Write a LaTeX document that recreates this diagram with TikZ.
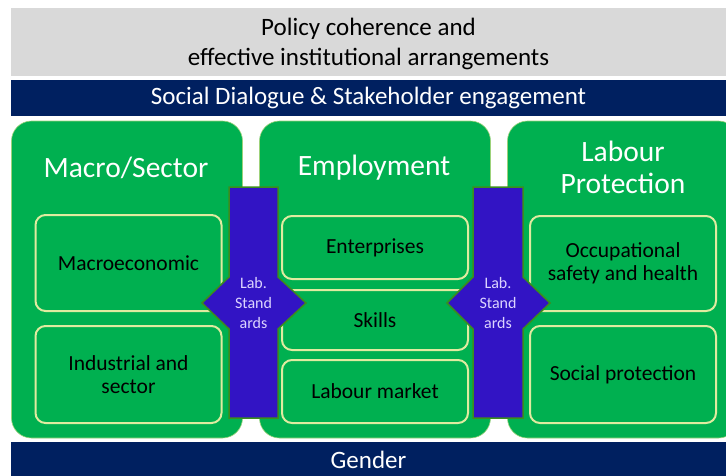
\documentclass[tikz,border=0pt]{standalone}
\usepackage{fontspec}
\setmainfont{Carlito}
\definecolor{grayband}{HTML}{D9D9D9}
\definecolor{navy}{HTML}{002060}
\definecolor{boxgreen}{HTML}{00B050}
\definecolor{innerline}{HTML}{E0EBA0}
\definecolor{outerline}{HTML}{9CD27A}
\definecolor{labblue}{HTML}{3214C4}
\definecolor{labedge}{HTML}{3C8C1E}
\definecolor{labtext}{HTML}{DCD4FF}
\tikzset{
  band/.style={inner sep=0pt, outer sep=0pt, align=center},
  pillar/.style={fill=boxgreen, draw=outerline, line width=0.6pt, rounded corners=20pt, minimum width=231pt, minimum height=317pt, inner sep=0pt},
  heading/.style={text=white, align=center, font=\fontsize{29.5}{32}\selectfont},
  inner/.style={fill=boxgreen, draw=innerline, line width=2pt, rounded corners=10pt, minimum width=186pt, align=center, inner sep=0pt, font=\fontsize{21.5}{23}\selectfont},
  labarrow/.style={fill=labblue, draw=labedge, line width=1.5pt, line join=miter},
  labtxt/.style={text=labtext, align=center, font=\fontsize{16}{20}\selectfont}
}
\begin{document}
\begin{tikzpicture}[x=1pt,y=-1pt]
\useasboundingbox (0,0) rectangle (726,475);
\fill[white] (0,0) rectangle (726,475);
% bands
\node[band, fill=grayband, minimum width=715pt, minimum height=68pt] (policy) at (368.5,42) {};
\node[band, font=\fontsize{25}{30}\selectfont] (policyt) at (368.5,43.5) {Policy coherence and\\effective institutional arrangements};
\node[band, fill=navy, text=white, minimum width=715pt, minimum height=36pt, font=\fontsize{25}{28}\selectfont] (social) at (368.5,98) {Social Dialogue \& Stakeholder engagement};
% pillars
\node[pillar] (macro) at (127,279.5) {};
\node[pillar] (employ) at (375,279.5) {};
\node[pillar] (labour) at (623,279.5) {};
\node[heading] (macroh) at (126,168) {Macro/Sector};
\node[heading] (employh) at (374,168) {Employment};
\node[heading] (labourh) at (623,167) {Labour\\Protection};
% inner boxes
\node[inner, minimum height=96pt] (macroec) at (128.5,263) {Macroeconomic};
\node[inner, minimum height=97pt] (indus) at (128.5,374.5) {Industrial and\\sector};
\node[inner, minimum height=63pt] (enterp) at (375,247.5) {Enterprises};
\node[inner, minimum height=60pt] (skills) at (375,320) {Skills};
\node[inner, minimum height=63pt] (labmkt) at (375,391.5) {Labour market};
\node[inner, minimum height=95pt] (occup) at (623,263.5) {Occupational\\safety and health};
\node[inner, minimum height=97pt] (socprot) at (623,374.5) {Social protection};
% gender
\node[band, fill=navy, text=white, minimum width=715pt, minimum height=36pt, font=\fontsize{25}{28}\selectfont] (gender) at (368.5,460) {Gender};
% lab standards arrows
\draw[labarrow] (229,187) -- (278,187) -- (278,277) -- (306,303) -- (278,329) -- (278,418) -- (229,418) -- (229,329) -- (202,303) -- (229,277) -- cycle;
\node[labtxt] (lab1) at (253.5,303) {Lab.\\Stand\\ards};
\draw[labarrow] (473,187) -- (523,187) -- (523,277) -- (550,303) -- (523,329) -- (523,418) -- (473,418) -- (473,329) -- (447,303) -- (473,277) -- cycle;
\node[labtxt] (lab2) at (498,303) {Lab.\\Stand\\ards};
\end{tikzpicture}
\end{document}
